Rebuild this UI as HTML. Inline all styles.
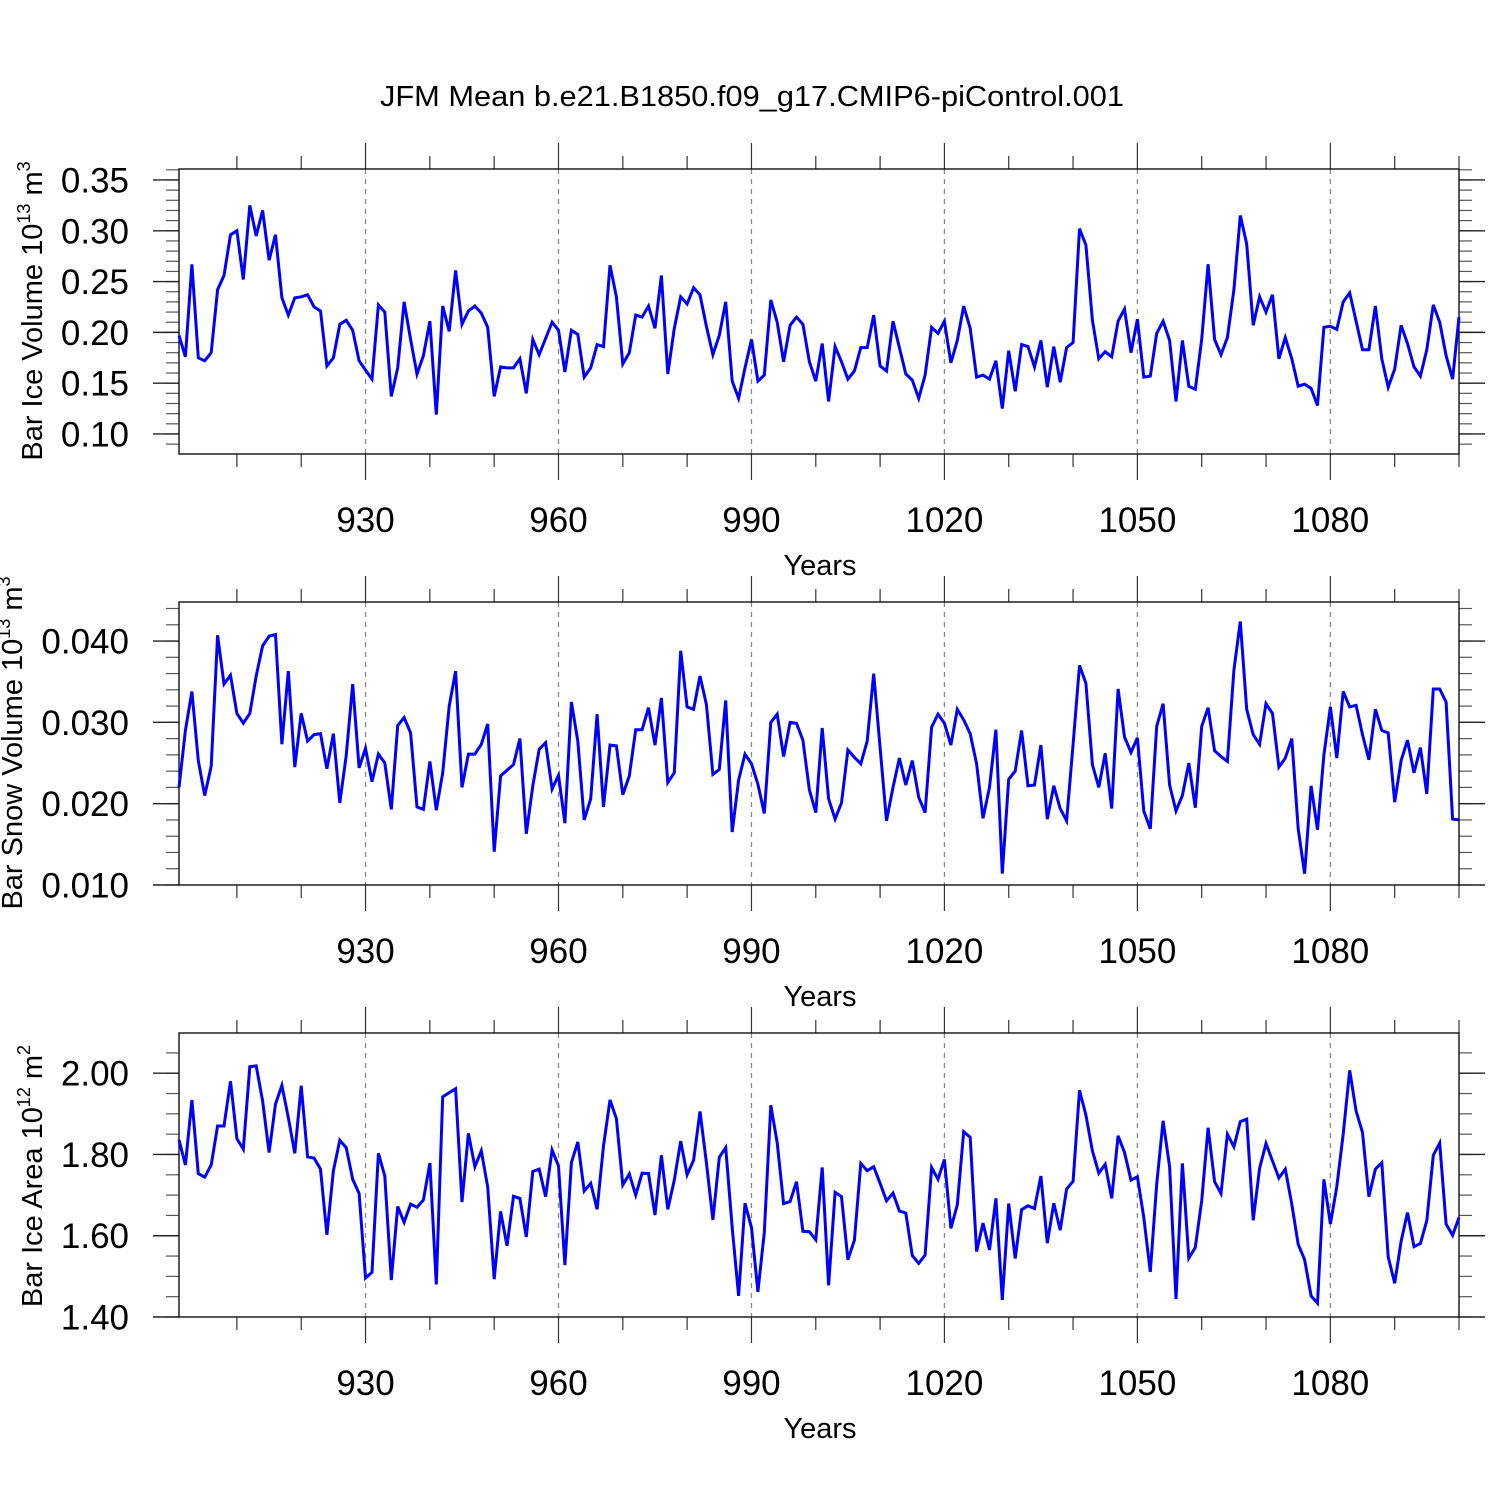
<!DOCTYPE html>
<html><head><meta charset="utf-8"><style>
html,body{margin:0;padding:0;background:#fff;}
svg{display:block;font-family:"Liberation Sans",sans-serif;}
</style></head><body>
<svg id="chart" width="1500" height="1500" viewBox="0 0 1500 1500" xmlns="http://www.w3.org/2000/svg">
<rect width="1500" height="1500" fill="#fff"/>
<text x="752" y="106" font-size="29" text-anchor="middle" textLength="744" lengthAdjust="spacingAndGlyphs">JFM Mean b.e21.B1850.f09_g17.CMIP6-piControl.001</text>
</svg>
<script>
const years0 = 901;
const iceVolume = [
.197,.176,.267,.175,.172,.180,.242,.256,.296,.300,
.252,.325,.295,.320,.271,.296,.234,.217,.234,.235,
.237,.225,.221,.167,.175,.208,.212,.202,.172,.163,
.154,.227,.220,.137,.165,.230,.193,.159,.177,.211,
.119,.226,.201,.261,.208,.221,.226,.219,.205,.137,
.166,.165,.165,.174,.140,.193,.178,.194,.210,.202,
.161,.202,.198,.156,.165,.188,.186,.266,.235,.169,
.180,.217,.215,.226,.204,.256,.159,.204,.235,.228,
.244,.237,.206,.178,.197,.230,.152,.135,.165,.193,
.152,.158,.232,.210,.171,.207,.215,.208,.171,.152,
.189,.132,.186,.171,.154,.162,.185,.185,.217,.167,
.162,.211,.185,.159,.153,.135,.158,.205,.199,.211,
.170,.192,.226,.204,.156,.158,.154,.172,.125,.182,
.142,.188,.186,.166,.192,.146,.186,.151,.185,.190,
.302,.286,.212,.174,.181,.176,.211,.223,.180,.213,
.156,.157,.199,.211,.192,.132,.192,.147,.144,.193,
.267,.193,.178,.195,.242,.315,.287,.207,.235,.220,
.237,.174,.195,.174,.147,.149,.145,.128,.205,.206,
.203,.230,.239,.211,.183,.183,.226,.174,.146,.164,
.207,.189,.166,.157,.183,.227,.210,.177,.154,.215];
const snowVolume = [
.0220,.0290,.0338,.0253,.0210,.0246,.0407,.0347,.0358,.0311,
.0299,.0311,.0357,.0394,.0406,.0408,.0273,.0363,.0245,.0311,
.0277,.0285,.0286,.0243,.0286,.0201,.0259,.0347,.0244,.0268,
.0227,.0261,.0250,.0193,.0296,.0306,.0287,.0196,.0193,.0252,
.0192,.0238,.0320,.0363,.0220,.0261,.0261,.0273,.0298,.0141,
.0234,.0241,.0248,.0280,.0163,.0222,.0267,.0275,.0218,.0235,
.0176,.0325,.0277,.0180,.0206,.0310,.0196,.0272,.0271,.0211,
.0234,.0291,.0291,.0318,.0272,.0330,.0226,.0238,.0388,.0319,
.0316,.0357,.0322,.0236,.0242,.0327,.0165,.0229,.0261,.0249,
.0224,.0188,.0300,.0310,.0258,.0300,.0299,.0278,.0217,.0189,
.0293,.0206,.0181,.0201,.0266,.0257,.0249,.0277,.0360,.0269,
.0179,.0220,.0256,.0223,.0253,.0208,.0189,.0294,.0310,.0299,
.0272,.0316,.0303,.0286,.0249,.0182,.0220,.0291,.0114,.0230,
.0240,.0290,.0222,.0223,.0272,.0181,.0222,.0194,.0179,.0273,
.0370,.0348,.0248,.0220,.0262,.0194,.0341,.0282,.0263,.0281,
.0191,.0169,.0295,.0323,.0223,.0191,.0210,.0250,.0195,.0295,
.0318,.0265,.0258,.0252,.0364,.0424,.0316,.0285,.0273,.0323,
.0311,.0245,.0256,.0280,.0169,.0114,.0222,.0168,.0260,.0319,
.0256,.0338,.0319,.0321,.0285,.0254,.0316,.0290,.0287,.0202,
.0253,.0278,.0238,.0269,.0212,.0341,.0341,.0325,.0181,.0180];
const iceArea = [
1.836,1.774,1.934,1.753,1.744,1.774,1.870,1.870,1.980,1.839,
1.813,2.016,2.018,1.932,1.805,1.924,1.970,1.891,1.803,1.969,
1.794,1.791,1.764,1.602,1.760,1.835,1.817,1.739,1.704,1.496,
1.510,1.803,1.747,1.491,1.672,1.633,1.678,1.670,1.688,1.779,
1.480,1.942,1.952,1.962,1.683,1.852,1.770,1.809,1.720,1.493,
1.660,1.575,1.697,1.692,1.597,1.758,1.764,1.696,1.811,1.772,
1.528,1.780,1.831,1.710,1.729,1.665,1.821,1.934,1.888,1.725,
1.752,1.700,1.754,1.753,1.651,1.798,1.665,1.737,1.833,1.750,
1.786,1.906,1.780,1.639,1.793,1.817,1.620,1.452,1.680,1.620,
1.462,1.608,1.921,1.829,1.679,1.684,1.733,1.611,1.610,1.590,
1.768,1.478,1.707,1.696,1.541,1.589,1.778,1.760,1.770,1.729,
1.686,1.705,1.661,1.656,1.551,1.532,1.552,1.768,1.739,1.788,
1.618,1.676,1.856,1.842,1.561,1.631,1.565,1.692,1.442,1.679,
1.544,1.664,1.674,1.667,1.747,1.582,1.680,1.614,1.715,1.734,
1.958,1.897,1.809,1.754,1.776,1.692,1.846,1.805,1.737,1.745,
1.645,1.511,1.727,1.883,1.770,1.444,1.778,1.545,1.571,1.686,
1.866,1.733,1.704,1.850,1.819,1.881,1.887,1.638,1.766,1.827,
1.784,1.742,1.764,1.678,1.579,1.541,1.452,1.434,1.739,1.629,
1.721,1.850,2.007,1.907,1.854,1.696,1.764,1.780,1.548,1.483,
1.586,1.657,1.573,1.581,1.637,1.798,1.828,1.629,1.601,1.645];
const xTickLabels = ["930","960","990","1020","1050","1080"];
const iceVolTicks = ["0.10","0.15","0.20","0.25","0.30","0.35"];
const snowTicks = ["0.010","0.020","0.030","0.040"];
const areaTicks = ["1.40","1.60","1.80","2.00"];

const NS = "http://www.w3.org/2000/svg";
const svg = document.getElementById('chart');
const X0 = 179, X1 = 1459, YR0 = 901, YR1 = 1100;
function xs(yr){ return X0 + (yr - YR0) * (X1 - X0) / (YR1 - YR0); }
function mk(tag, attrs, parent){
  const e = document.createElementNS(NS, tag);
  for (const k in attrs) e.setAttribute(k, attrs[k]);
  (parent || svg).appendChild(e);
  return e;
}

const panels = [
  {key:'ice-volume', top:169, bot:454, vmin:0.0803, vmax:0.3608, data:iceVolume, ticks:iceVolTicks, minor:0.01, yTitle:['Bar Ice Volume 10','13',' m','3'], tcx:42, tcy:311},
  {key:'snow-volume', top:602, bot:885, vmin:0.010, vmax:0.0448, data:snowVolume, ticks:snowTicks, minor:0.002, yTitle:['Bar Snow Volume 10','13',' m','3'], tcx:22, tcy:743},
  {key:'ice-area', top:1033, bot:1317, vmin:1.40, vmax:2.099, data:iceArea, ticks:areaTicks, minor:0.05, yTitle:['Bar Ice Area 10','12',' m','2'], tcx:42, tcy:1176}
];

panels.forEach(p => {
  const g = mk('g', {});
  
  
  const ys = v => p.bot - (v - p.vmin) * (p.bot - p.top) / (p.vmax - p.vmin);
  xTickLabels.forEach(l => {
    const x = xs(+l);
    const gl = mk('line', {x1:x, x2:x, y1:p.top, y2:p.bot, stroke:'#888', 'stroke-width':1.3, 'stroke-dasharray':'5,5'}, g);
    
    
  });
  for (let yr = 910; yr <= 1100; yr += 10) {
    const x = xs(yr);
    const major = (yr % 30 === 0);
    const len = major ? 26 : 13;
    mk('line', {x1:x, x2:x, y1:p.top, y2:p.top - len, stroke:'#333', 'stroke-width':1.2}, g);
    mk('line', {x1:x, x2:x, y1:p.bot, y2:p.bot + len, stroke:'#333', 'stroke-width':1.2}, g);
  }
  const nMin = Math.ceil(p.vmin / p.minor - 1e-6), nMax = Math.floor(p.vmax / p.minor + 1e-6);
  for (let i = nMin; i <= nMax; i++) {
    const y = ys(i * p.minor);
    mk('line', {x1:X0, x2:X0 - 13, y1:y, y2:y, stroke:'#555', 'stroke-width':1.2}, g);
    mk('line', {x1:X1, x2:X1 + 13, y1:y, y2:y, stroke:'#555', 'stroke-width':1.2}, g);
  }
  p.ticks.forEach(t => {
    const y = ys(+t);
    mk('line', {x1:X0, x2:X0 - 26, y1:y, y2:y, stroke:'#222', 'stroke-width':1.4}, g);
    mk('line', {x1:X1, x2:X1 + 26, y1:y, y2:y, stroke:'#222', 'stroke-width':1.4}, g);
    const tl = mk('text', {x:129, y:y + 12.5, 'font-size':35, 'text-anchor':'end'}, g);
    tl.textContent = t;
    
    
  });
  xTickLabels.forEach(l => {
    const tl = mk('text', {x:xs(+l), y:p.bot + 78, 'font-size':35, 'text-anchor':'middle'}, g);
    tl.textContent = l;
    
    
  });
  const xt = mk('text', {x:820, y:p.bot + 121, 'font-size':29, 'text-anchor':'middle'}, g);
  xt.textContent = 'Years';
  
  
  const yt = mk('text', {transform:'translate(' + p.tcx + ',' + p.tcy + ') rotate(-90)', 'font-size':29, 'text-anchor':'middle'}, g);
  
  
  p.yTitle.forEach((s, i) => {
    const ts = mk('tspan', i % 2 ? {'font-size':18, dy:-12} : {dy: i ? 12 : 0}, yt);
    ts.textContent = s;
  });
  const fr = mk('rect', {x:X0, y:p.top, width:X1 - X0, height:p.bot - p.top, fill:'none', stroke:'#111', 'stroke-width':1.4}, g);
  
  
  const pts = p.data.map((v, i) => xs(years0 + i).toFixed(1) + ',' + ys(v).toFixed(1)).join(' ');
  const line = mk('polyline', {points:pts, fill:'none', stroke:'#0000ff', 'stroke-width':3, 'stroke-linejoin':'miter'}, g);
  
  
});
</script>
</body></html>
